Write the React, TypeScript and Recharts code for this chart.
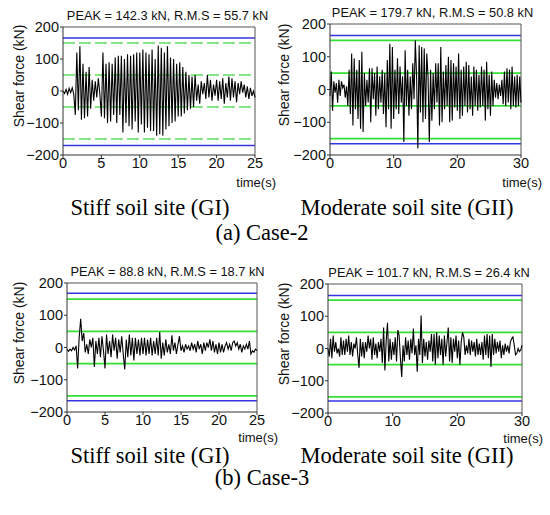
import React from "react";
import { LineChart, Line, XAxis, YAxis, ReferenceLine } from "recharts";

// time step of the sampled histories (s)
const DT = 0.2;

// (a) Case-2, stiff soil site (GI), 0-25 s
const case2GI = [
  0, -8, 5, -10, 8, -5, 10, -10, -75, 120,
  -60, 140, -90, 85, -85, 60, -80, 75, -55, 35,
  -30, 30, -20, 40, -10, -80, 120, -85, 85, -100,
  90, -95, 85, -75, 105, -100, 110, -75, 110, -130,
  100, -100, 115, -110, 110, -120, 115, -95, 120, -130,
  120, -105, 130, -130, 120, -115, 115, -125, 130, -125,
  100, -140, 142, -135, 135, -140, 120, -120, 140, -110,
  105, -100, 100, -95, 85, -80, 90, -80, 75, -70,
  60, -60, 50, -55, 45, -50, 50, -30, 20, -40,
  30, -10, 25, -25, 50, -20, 35, -30, 20, -15,
  35, -30, 30, -25, 40, -40, 25, -20, 45, -30,
  40, -20, 30, -35, 25, -10, 30, -5, 20, -20,
  15, -25, 10, -15, 0, -20,
];

// (a) Case-2, moderate soil site (GII), 0-30 s
const case2GII = [
  -20, 55, -65, 25, -10, 20, -40, 30, -20, 25,
  5, 15, -25, 10, -50, 60, -75, 110, -110, 95,
  -60, 60, -90, 90, -120, 115, -130, 50, -50, 30,
  -40, 65, -100, 65, -30, 50, -80, 70, -60, 40,
  -40, 60, -75, 50, -115, 90, -60, 140, -120, 130,
  -90, 60, -60, 95, -75, 70, -40, 40, -160, 120,
  -50, 60, -80, 40, -60, 80, -30, 150, 40, -180,
  135, -70, 130, -100, 125, -90, 110, 40, -160, 60,
  -95, 50, -60, 80, -40, 80, -110, 130, -100, 55,
  -60, 75, -50, 100, -100, 90, -95, 80, -55, 70,
  -65, 110, -90, 60, -80, 70, -50, 85, -70, 75,
  -60, 40, -80, 70, -50, 60, -65, 45, -55, 70,
  -50, 60, -95, 85, -60, 45, -80, 55, -50, 30,
  -25, 20, -30, 15, -20, 30, -45, 55, -50, 65,
  -40, 60, -60, 70, -50, 40, -55, 45, -50, 40,
  -40,
];

// (b) Case-3, stiff soil site (GI), 0-25 s
const case3GI = [
  -5, -12, -5, -10, 0, -8, 5, -65, 30, 89,
  20, 45, -15, 10, -20, 25, 0, 30, -60, 20,
  -20, 30, -30, 35, -10, -65, 40, -20, 20, -30,
  40, -10, 30, -35, 25, -15, 35, -20, -68, 25,
  -30, 40, -25, 30, -40, 30, -20, 25, -25, 30,
  -20, 30, -25, 25, -20, 30, -25, 20, -20, 30,
  -25, 48, -35, 15, -25, 25, -15, 10, -20, 38,
  -10, 15, -20, 10, 35, -10, 5, -15, 10, -5,
  5, -10, 15, -5, 10, -15, 20, -5, 10, -20,
  15, -10, 15, 0, 25, -10, 20, -15, 10, -20,
  15, -15, 10, -15, 5, 15, -5, 10, -10, 15,
  20, 5, 15, -5, 10, -15, 5, -5, 10, -5,
  20, -20, -10, -15, -5, -10,
];

// (b) Case-3, moderate soil site (GII), 0-30 s
const case3GII = [
  0, -25, 30, -30, 40, -10, 20, -15, 0, -25,
  35, -20, 25, -20, 30, -10, 40, -20, 20, -25,
  15, 0, 35, -20, -60, 30, -25, 20, -30, 20,
  -10, 40, 0, 30, -35, 35, -20, 15, -30, 20,
  -10, 30, -45, 65, -68, 25, 80, -40, 30, -35,
  20, -20, 35, -40, 57, 40, -30, -88, 10, -40,
  35, -20, 25, -35, 30, -15, 62, -20, 10, -72,
  30, -20, 102, -45, 30, -25, 20, -35, 25, -10,
  45, -40, 45, -50, 50, -30, 40, -20, 30, -50,
  40, -25, 20, 65, -40, 35, -45, 30, -10, 40,
  -30, 25, -50, 20, 50, 35, -20, 10, -15, 30,
  -20, 25, -10, 20, -25, 30, -20, 15, -20, 20,
  -35, 40, -20, 45, -30, 40, -57, 45, -20, 30,
  -15, 20, -10, 25, -30, 10, -20, 15, -10, 10,
  -15, 20, 30, 36, 10, -20, -15, 0, -10, -5,
  10,
];

const yTicks = [-200, -100, 0, 100, 200];
const xTicks25 = [0, 5, 10, 15, 20, 25];
const xTicks30 = [0, 10, 20, 30];
const greenLevels = [150, 50, -50, -150];

const titles = [
  "PEAK = 142.3 kN, R.M.S = 55.7 kN",
  "PEAK = 179.7 kN, R.M.S = 50.8 kN",
  "PEAK = 88.8 kN, R.M.S = 18.7 kN",
  "PEAK = 101.7 kN, R.M.S = 26.4 kN",
];
const siteLabels = ["Stiff soil site (GI)", "Moderate soil site (GII)"];
const caseLabels = ["(a) Case-2", "(b) Case-3"];

const SANS = "'Liberation Sans', Arial, sans-serif";
const SERIF = "'Liberation Serif', 'Times New Roman', serif";

type PanelProps = {
  values: number[];
  xMax: number;
  xTicks: number[];
  left: number;
  top: number;
  width: number;
  height: number;
  mTop: number;
  mRight: number;
  yWidth: number;
  xHeight: number;
  blueTop: number;
  blueBot: number;
  dashed: boolean;
  title: string;
  titleX: number;
  yLabelX: number;
  timeDy: number;
};

const fmt = (v: number) => (v < 0 ? "\u2212" + Math.abs(v) : String(v));

function Panel(p: PanelProps) {
  const data = p.values.map((v, i) => ({ t: i * DT, v }));
  const plotRight = p.left + p.width - p.mRight;
  const plotTop = p.top + p.mTop;
  const plotBottom = p.top + p.height - p.xHeight;
  const tickStyle = { fontSize: 14.5, fill: "#111", fontFamily: SANS };
  return (
    <>
      <div style={{ position: "absolute", left: p.left, top: p.top }}>
        <LineChart
          width={p.width}
          height={p.height}
          data={data}
          margin={{ top: p.mTop, right: p.mRight, bottom: 0, left: 0 }}
        >
          <XAxis
            dataKey="t"
            type="number"
            domain={[0, p.xMax]}
            ticks={p.xTicks}
            interval={0}
            height={p.xHeight}
            tickSize={3}
            tickMargin={0}
            stroke="#333"
            tick={tickStyle}
          />
          <YAxis
            type="number"
            domain={[-200, 200]}
            ticks={yTicks}
            interval={0}
            width={p.yWidth}
            tickSize={3}
            tickMargin={1}
            stroke="#333"
            allowDataOverflow
            tickFormatter={fmt}
            tick={tickStyle}
          />
          {greenLevels.map((g) => (
            <ReferenceLine
              key={g}
              y={g}
              stroke={p.dashed ? "#5ee05e" : "#33e033"}
              strokeWidth={1.6}
              strokeDasharray={p.dashed ? "12 4" : undefined}
            />
          ))}
          <ReferenceLine y={p.blueTop} stroke="#3535e0" strokeWidth={1.5} />
          <ReferenceLine y={p.blueBot} stroke="#3535e0" strokeWidth={1.5} />
          <ReferenceLine y={200} stroke="#555" strokeWidth={1} />
          <ReferenceLine x={p.xMax} stroke="#555" strokeWidth={1} />
          <Line
            dataKey="v"
            type="linear"
            dot={false}
            stroke="#000"
            strokeWidth={1.1}
            isAnimationActive={false}
          />
        </LineChart>
      </div>
      <div
        style={{
          position: "absolute",
          left: p.titleX,
          top: plotTop - 11,
          transform: "translate(-50%, -50%)",
          whiteSpace: "nowrap",
          fontFamily: SANS,
          fontSize: 12.8,
          lineHeight: 1,
          color: "#111",
        }}
      >
        {p.title}
      </div>
      <div
        style={{
          position: "absolute",
          left: p.yLabelX,
          top: (plotTop + plotBottom) / 2 - 15,
          transform: "translate(-50%, -50%) rotate(-90deg)",
          whiteSpace: "nowrap",
          fontFamily: SANS,
          fontSize: 14,
          lineHeight: 1,
          color: "#111",
        }}
      >
        Shear force (kN)
      </div>
      <div
        style={{
          position: "absolute",
          left: plotRight + 21,
          top: plotBottom + p.timeDy,
          transform: "translate(-100%, -50%)",
          whiteSpace: "nowrap",
          fontFamily: SANS,
          fontSize: 13,
          lineHeight: 1,
          color: "#111",
        }}
      >
        time(s)
      </div>
    </>
  );
}

function Caption({ x, y, text }: { x: number; y: number; text: string }) {
  return (
    <div
      style={{
        position: "absolute",
        left: x,
        top: y,
        transform: "translate(-50%, -50%)",
        whiteSpace: "nowrap",
        fontFamily: SERIF,
        fontSize: 22.5,
        lineHeight: 0.9,
        color: "#000",
      }}
    >
      {text}
    </div>
  );
}

export default function App() {
  return (
    <div
      style={{
        position: "absolute",
        left: 0,
        top: 0,
        width: 550,
        height: 515,
        background: "#fff",
        overflow: "hidden",
      }}
    >
      <Panel
        values={case2GI}
        xMax={25}
        xTicks={xTicks25}
        left={0}
        top={0}
        width={275}
        height={190}
        mTop={27}
        mRight={20}
        yWidth={63}
        xHeight={35}
        blueTop={166}
        blueBot={-170}
        dashed={true}
        title={titles[0]}
        titleX={167.5}
        yLabelX={19}
        timeDy={27}
      />
      <Panel
        values={case2GII}
        xMax={30}
        xTicks={xTicks30}
        left={275}
        top={0}
        width={275}
        height={190}
        mTop={24}
        mRight={29}
        yWidth={55}
        xHeight={35}
        blueTop={165}
        blueBot={-166}
        dashed={false}
        title={titles[1]}
        titleX={432.5}
        yLabelX={283.5}
        timeDy={27}
      />
      <Panel
        values={case3GI}
        xMax={25}
        xTicks={xTicks25}
        left={0}
        top={250}
        width={275}
        height={200}
        mTop={33}
        mRight={18}
        yWidth={67}
        xHeight={38}
        blueTop={168}
        blueBot={-165}
        dashed={false}
        title={titles[2]}
        titleX={167.5}
        yLabelX={19}
        timeDy={25}
      />
      <Panel
        values={case3GII}
        xMax={30}
        xTicks={xTicks30}
        left={275}
        top={250}
        width={275}
        height={200}
        mTop={34}
        mRight={28}
        yWidth={53}
        xHeight={37}
        blueTop={164}
        blueBot={-163}
        dashed={false}
        title={titles[3]}
        titleX={429}
        yLabelX={283.5}
        timeDy={25}
      />
      <Caption x={150} y={208} text={siteLabels[0]} />
      <Caption x={407} y={208} text={siteLabels[1]} />
      <Caption x={262} y={233} text={caseLabels[0]} />
      <Caption x={150} y={456} text={siteLabels[0]} />
      <Caption x={407} y={456} text={siteLabels[1]} />
      <Caption x={262} y={478} text={caseLabels[1]} />
    </div>
  );
}
